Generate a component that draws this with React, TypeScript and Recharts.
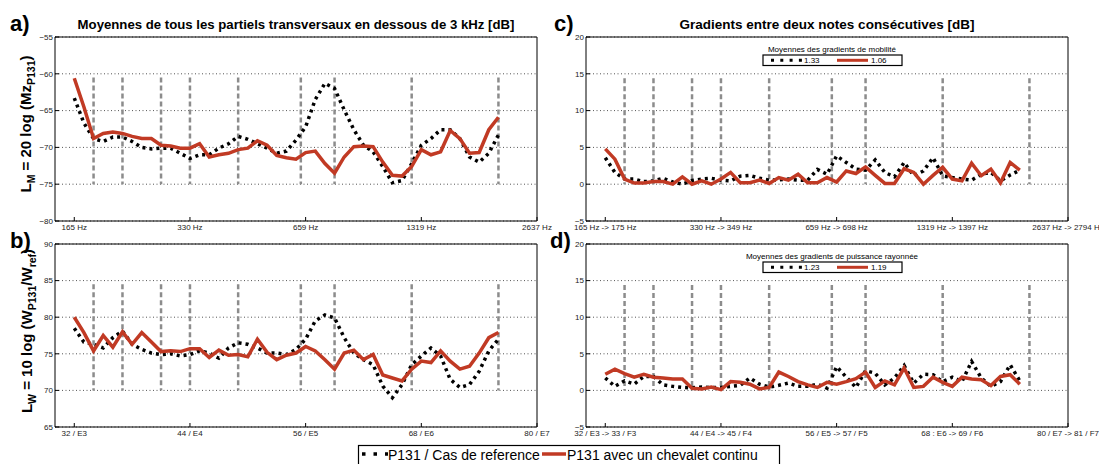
import { LineChart, Line, XAxis, YAxis, CartesianGrid, ReferenceLine, ReferenceArea } from 'recharts';

const FONT = '"Liberation Sans", Arial, Helvetica, sans-serif';
const RED = '#c13a24';
const W = 1099;
const H = 464;

// notes (midi-like numbering used on the x axis)
const notes = [32, 33, 34, 35, 36, 37, 38, 39, 40, 41, 42, 43, 44, 45, 46, 47, 48, 49, 50, 51, 52, 53,
    54, 55, 56, 57, 58, 59, 60, 61, 62, 63, 64, 65, 66, 67, 68, 69, 70, 71, 72, 73, 74, 75, 76];
const tickNotes = [32, 44, 56, 68, 80];
const stringBreaks = [34, 37, 41, 44, 49, 55.5, 59, 67, 76];

const hzLabels = ['165 Hz', '330 Hz', '659 Hz', '1319 Hz', '2637 Hz'];
const noteLabels = ['32 / E3', '44 / E4', '56 / E5', '68 / E6', '80 / E7'];
const hzGradLabels = ['165 Hz -> 175 Hz', '330 Hz -> 349 Hz', '659 Hz -> 698 Hz', '1319 Hz -> 1397 Hz', '2637 Hz -> 2794 Hz'];
const noteGradLabels = ['32 / E3 -> 33 / F3', '44 / E4 -> 45 / F4', '56 / E5 -> 57 / F5', '68 : E6 -> 69 / F6', '80 / E7 -> 81 / F7'];

// a) mobility
const mobRef = [-63.3, -66.7, -68.8, -69.2, -68.6, -68.6, -69.2, -70.0, -70.2, -70.1, -70.1, -70.8, -71.5,
    -71.0, -71.0, -70.1, -69.5, -68.5, -68.9, -69.5, -70.1, -70.8, -70.5, -69.0, -67.2, -63.5, -61.3, -62.0,
    -64.9, -67.6, -69.7, -70.6, -72.6, -74.8, -74.5, -72.2, -69.7, -68.8, -67.6, -67.6, -68.8, -71.3, -72.0,
    -70.8, -68.3];
const mobCont = [-60.6, -64.5, -68.8, -68.1, -67.9, -68.1, -68.5, -68.8, -68.8, -69.7, -69.8, -70.1, -70.1,
    -69.5, -71.3, -71.0, -70.8, -70.3, -70.1, -69.1, -69.7, -71.1, -71.4, -71.6, -70.7, -70.5, -72.2, -73.5,
    -71.3, -69.9, -69.8, -69.9, -72.0, -73.8, -73.9, -72.6, -70.3, -71.0, -70.6, -67.7, -68.8, -70.8, -70.7,
    -67.6, -65.9];

// b) radiated power
const powRef = [78.5, 76.6, 76.3, 75.8, 77.2, 78.1, 76.3, 75.6, 75.1, 74.9, 75.0, 74.7, 74.9, 75.4, 75.1,
    74.4, 75.8, 76.5, 76.3, 75.8, 75.1, 75.1, 74.9, 75.6, 77.0, 79.5, 80.3, 79.9, 77.2, 75.1, 74.2, 73.5,
    70.6, 69.0, 70.8, 73.5, 74.7, 75.8, 74.7, 71.5, 70.4, 70.8, 72.6, 75.4, 77.0];
const powCont = [80.0, 77.9, 75.4, 77.5, 75.9, 78.0, 76.3, 77.9, 76.6, 75.3, 75.4, 75.3, 75.7, 75.7, 74.5,
    75.5, 74.8, 74.9, 74.6, 77.0, 75.2, 74.2, 74.8, 75.1, 76.0, 75.4, 74.2, 72.9, 75.1, 75.5, 74.2, 74.9,
    72.1, 71.7, 71.3, 72.9, 74.0, 73.8, 75.4, 74.0, 72.9, 73.3, 75.1, 77.2, 77.9];

// c) mobility gradients (note n -> n+1)
const mobGradRef = [3.6, 1.6, 0.7, 0.7, 0.35, 0.45, 0.8, 0.3, 0.0, 0.5, 0.7, 0.8, 0.55, 0.45, 1.1, 1.2,
    0.8, 0.55, 0.6, 0.7, 0.55, 0.55, 2.0, 1.35, 3.85, 2.95, 2.05, 1.9, 3.3, 1.6, 1.0, 2.95, 1.15, 1.8, 3.6,
    1.15, 0.9, 0.7, 0.55, 1.35, 1.6, 0.45, 1.25, 1.9];
const mobGradCont = [4.8, 3.4, 0.7, 0.15, 0.15, 0.35, 0.35, 0.0, 1.0, 0.0, 0.45, 0.0, 0.7, 1.6, 0.2, 0.2,
    0.55, 0.1, 0.9, 0.55, 1.35, 0.2, 0.2, 0.9, 0.3, 1.8, 1.45, 2.35, 1.2, 0.1, 0.1, 2.1, 1.6, 0.0, 1.2, 2.3,
    0.7, 0.45, 2.85, 1.15, 2.05, 0.2, 2.95, 1.9];

// d) radiated power gradients
const powGradRef = [1.7, 0.55, 1.3, 0.85, 1.9, 1.9, 0.75, 0.55, 0.4, 0.35, 0.45, 0.4, 0.4, 0.55, 0.7, 1.7,
    0.85, 0.45, 0.7, 1.0, 0.55, 0.55, 0.85, 0.3, 3.25, 1.8, 0.4, 2.7, 2.35, 0.75, 1.7, 3.4, 1.0, 2.2, 2.15,
    1.2, 1.8, 1.2, 3.95, 1.7, 0.55, 1.2, 3.5, 1.3];
const powGradCont = [2.2, 2.9, 2.3, 1.8, 2.2, 1.8, 1.7, 1.55, 1.55, 0.3, 0.2, 0.45, 0.1, 1.2, 1.1, 0.85, 0.2,
    0.4, 2.5, 1.9, 1.2, 0.75, 0.4, 1.1, 0.85, 1.2, 1.6, 2.5, 0.4, 1.3, 0.75, 3.05, 0.4, 0.55, 1.8, 1.1, 0.55,
    1.8, 1.55, 1.45, 0.65, 1.9, 2.15, 0.85];

const rows = (ref: number[], cont: number[]) => ref.map((v, i) => ({ note: notes[i], ref: v, cont: cont[i] }));
const minus = (v: number) => String(v).replace('-', '\u2212');

type PanelProps = {
    data: { note: number; ref: number; cont: number }[];
    margin: { top: number; right: number; bottom: number; left: number };
    yDomain: [number, number];
    yTicks: number[];
    xLabels: string[];
    breakSpan: [number, number];
};

const Panel = ({ data, margin, yDomain, yTicks, xLabels, breakSpan }: PanelProps) => (
    <div style={{ position: 'absolute', left: 0, top: 0 }}>
        <LineChart width={W} height={H} data={data} margin={margin}>
            <CartesianGrid vertical={false} stroke="#555" strokeDasharray="1 2.5" />
            <XAxis type="number" dataKey="note" domain={[30, 80]} ticks={tickNotes} interval={0}
                tickFormatter={(v) => xLabels[tickNotes.indexOf(v)]} height={20} tickSize={-4} tickMargin={7}
                axisLine={false} tickLine={{ stroke: '#000' }}
                tick={{ fill: '#222', fontSize: 8, fontFamily: FONT }} />
            <YAxis type="number" domain={yDomain} ticks={yTicks} interval={0} width={30} tickSize={-4} tickMargin={6}
                tickFormatter={minus} axisLine={false} tickLine={{ stroke: '#000' }}
                tick={{ fill: '#222', fontSize: 8, fontFamily: FONT }} />
            {stringBreaks.map((x) => (
                <ReferenceLine key={x} segment={[{ x, y: breakSpan[0] }, { x, y: breakSpan[1] }]}
                    stroke="#8c8c8c" strokeWidth={2.5} strokeDasharray="5 3" />
            ))}
            <ReferenceArea x1={30} x2={80} y1={yDomain[0]} y2={yDomain[1]} fill="none" fillOpacity={0}
                stroke="#000" strokeWidth={1} />
            <Line type="linear" dataKey="ref" stroke="#000" strokeWidth={3.5} strokeDasharray="3 4"
                dot={false} isAnimationActive={false} />
            <Line type="linear" dataKey="cont" stroke={RED} strokeWidth={3.5}
                dot={false} isAnimationActive={false} />
        </LineChart>
    </div>
);

const InsetLegend = ({ y, title, a, b }: { y: number; title: string; a: string; b: string }) => (
    <g>
        <text x={832} y={y} textAnchor="middle" fontSize={8}>{title}</text>
        <rect x={763} y={y + 3.5} width={139} height={10.5} fill="#fff" stroke="#000" strokeWidth={1.2} />
        <line x1={771} x2={802} y1={y + 8.8} y2={y + 8.8} stroke="#000" strokeWidth={3} strokeDasharray="3 6.3" />
        <text x={804} y={y + 11.8} fontSize={8}>{a}</text>
        <line x1={837} x2={868} y1={y + 8.8} y2={y + 8.8} stroke={RED} strokeWidth={3} />
        <text x={871} y={y + 11.8} fontSize={8}>{b}</text>
    </g>
);

export default function App() {
    return (
        <div style={{ position: 'absolute', left: 0, top: 0, width: W, height: H, background: '#fff', fontFamily: FONT, overflow: 'hidden' }}>
            <Panel data={rows(mobRef, mobCont)} margin={{ top: 37, right: 562, bottom: 223, left: 25 }}
                yDomain={[-80, -55]} yTicks={[-80, -75, -70, -65, -60, -55]} xLabels={hzLabels} breakSpan={[-60.5, -75]} />
            <Panel data={rows(powRef, powCont)} margin={{ top: 244, right: 562, bottom: 17, left: 25 }}
                yDomain={[65, 90]} yTicks={[65, 70, 75, 80, 85, 90]} xLabels={noteLabels} breakSpan={[84.5, 70]} />
            <Panel data={rows(mobGradRef, mobGradCont)} margin={{ top: 37, right: 31, bottom: 223, left: 556 }}
                yDomain={[-5, 20]} yTicks={[-5, 0, 5, 10, 15, 20]} xLabels={hzGradLabels} breakSpan={[14.4, 0]} />
            <Panel data={rows(powGradRef, powGradCont)} margin={{ top: 244, right: 31, bottom: 17, left: 556 }}
                yDomain={[-5, 20]} yTicks={[-5, 0, 5, 10, 15, 20]} xLabels={noteGradLabels} breakSpan={[14.4, 0]} />

            <svg width={W} height={H} style={{ position: 'absolute', left: 0, top: 0, pointerEvents: 'none' }}
                fontFamily={FONT} fill="#000">
                <text x={10} y={31} fontSize={22} fontWeight="bold">a)</text>
                <text x={10} y={248} fontSize={22} fontWeight="bold">b)</text>
                <text x={554} y={31} fontSize={22} fontWeight="bold">c)</text>
                <text x={550} y={248} fontSize={22} fontWeight="bold">d)</text>

                <text x={296} y={29} textAnchor="middle" fontSize={13.2} fontWeight="bold">
                    Moyennes de tous les partiels transversaux en dessous de 3 kHz [dB]
                </text>
                <text x={827} y={29} textAnchor="middle" fontSize={13.5} fontWeight="bold">
                    Gradients entre deux notes consécutives [dB]
                </text>

                <text transform="translate(31,124) rotate(-90)" textAnchor="middle" fontSize={15} fontWeight="bold">
                    <tspan>L</tspan>
                    <tspan dy={4} fontSize={10.5}>M</tspan>
                    <tspan dy={-4}> = 20 log (Mz</tspan>
                    <tspan dy={4} fontSize={10.5}>P131</tspan>
                    <tspan dy={-4}>)</tspan>
                </text>
                <text transform="translate(32,331) rotate(-90)" textAnchor="middle" fontSize={15} fontWeight="bold">
                    <tspan>L</tspan>
                    <tspan dy={4} fontSize={10.5}>W</tspan>
                    <tspan dy={-4}> = 10 log (W</tspan>
                    <tspan dy={4} fontSize={10.5}>P131</tspan>
                    <tspan dy={-4}>/W</tspan>
                    <tspan dy={4} fontSize={10.5}>ref</tspan>
                    <tspan dy={-4}>)</tspan>
                </text>

                <InsetLegend y={51.5} title="Moyennes des gradients de mobilité" a="1.33" b="1.06" />
                <InsetLegend y={258.5} title="Moyennes des gradients de puissance rayonnée" a="1.23" b="1.19" />

                <rect x={358.5} y={445.5} width={421} height={30} fill="#fff" stroke="#000" strokeWidth={1.2} />
                <line x1={362} x2={388} y1={454} y2={454} stroke="#000" strokeWidth={3.5} strokeDasharray="3.5 8" />
                <text x={388} y={460} fontSize={14}>P131 / Cas de reference</text>
                <line x1={542} x2={566} y1={454} y2={454} stroke={RED} strokeWidth={3.5} />
                <text x={567} y={460} fontSize={14}>P131 avec un chevalet continu</text>
            </svg>
        </div>
    );
}
